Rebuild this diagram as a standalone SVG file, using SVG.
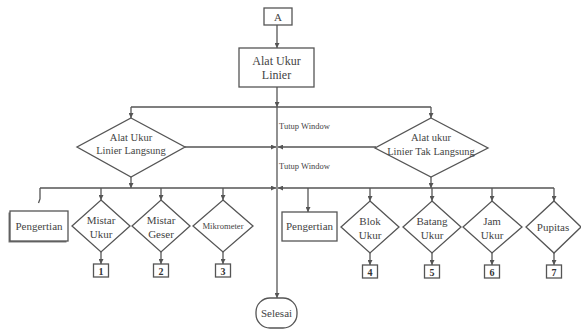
<svg xmlns="http://www.w3.org/2000/svg" width="581" height="332" viewBox="0 0 581 332">
  <defs>
    <marker id="arr" viewBox="0 0 10 10" refX="10" refY="5" markerWidth="5" markerHeight="5" orient="auto" markerUnits="userSpaceOnUse">
      <path d="M0,0 L10,5 L0,10 Z" fill="#555"/>
    </marker>
    <style>
      .shape { fill: #fff; stroke: #555; stroke-width: 1.3; }
      .line { fill: none; stroke: #555; stroke-width: 1.3; }
      text { font-family: 'Liberation Serif', 'DejaVu Serif', serif; fill: #444; }
      .t { text-anchor: middle; }
      .s11 { font-size: 11px; }
      .s12 { font-size: 12px; }
      .s105 { font-size: 10.5px; }
      .small { font-size: 8.5px; }
      .num { fill: #333; font-size: 10px; font-weight: bold; text-anchor: middle; }
    </style>
  </defs>
  <rect width="581" height="332" fill="#fff"/>

  <!-- connectors -->
  <g id="connectors">
    <line class="line" x1="277" y1="25" x2="277" y2="48" marker-end="url(#arr)"/>
    <line class="line" x1="277" y1="87" x2="277" y2="107" marker-end="url(#arr)"/>
    <!-- main split -->
    <polyline class="line" points="131,107 431,107"/>
    <line class="line" x1="131" y1="107" x2="131" y2="118" marker-end="url(#arr)"/>
    <line class="line" x1="431" y1="107" x2="431" y2="118" marker-end="url(#arr)"/>
    <!-- central exit line -->
    <line class="line" x1="277" y1="107" x2="277" y2="298" marker-end="url(#arr)"/>
    <!-- window-close arrows from each decision -->
    <line class="line" x1="185" y1="147" x2="276" y2="147" marker-end="url(#arr)"/>
    <line class="line" x1="376" y1="147" x2="278" y2="147" marker-end="url(#arr)"/>
    <!-- lower branch buses -->
    <line class="line" x1="131" y1="177" x2="131" y2="188" marker-end="url(#arr)"/>
    <line class="line" x1="431" y1="177" x2="431" y2="188" marker-end="url(#arr)"/>
    <line class="line" x1="40" y1="188" x2="276" y2="188" marker-end="url(#arr)"/>
    <line class="line" x1="554" y1="188" x2="278" y2="188" marker-end="url(#arr)"/>
    <path class="line" d="M40,188 L40,199 L38.5,203"/>
    <!-- left drops -->
    <line class="line" x1="101" y1="188" x2="101" y2="200" marker-end="url(#arr)"/>
    <line class="line" x1="161" y1="188" x2="161" y2="200" marker-end="url(#arr)"/>
    <line class="line" x1="223" y1="188" x2="223" y2="200" marker-end="url(#arr)"/>
    <!-- right drops -->
    <line class="line" x1="308" y1="188" x2="308" y2="212" marker-end="url(#arr)"/>
    <line class="line" x1="370" y1="188" x2="370" y2="201" marker-end="url(#arr)"/>
    <line class="line" x1="432" y1="188" x2="432" y2="201" marker-end="url(#arr)"/>
    <line class="line" x1="492" y1="188" x2="492" y2="201" marker-end="url(#arr)"/>
    <line class="line" x1="554" y1="188" x2="554" y2="201" marker-end="url(#arr)"/>
    <!-- to numbered connectors -->
    <line class="line" x1="101" y1="252" x2="101" y2="264" marker-end="url(#arr)"/>
    <line class="line" x1="161" y1="252" x2="161" y2="264" marker-end="url(#arr)"/>
    <line class="line" x1="223" y1="252" x2="223" y2="264" marker-end="url(#arr)"/>
    <line class="line" x1="370" y1="253" x2="370" y2="265" marker-end="url(#arr)"/>
    <line class="line" x1="432" y1="253" x2="432" y2="265" marker-end="url(#arr)"/>
    <line class="line" x1="492" y1="253" x2="492" y2="265" marker-end="url(#arr)"/>
    <line class="line" x1="554" y1="253" x2="554" y2="265" marker-end="url(#arr)"/>
    <text class="small" x="279" y="129">Tutup Window</text>
    <text class="small" x="279" y="169">Tutup Window</text>
  </g>

  <g id="start">
    <rect class="shape" x="264" y="8" width="28" height="17"/>
    <text class="t s11" x="278" y="20.5">A</text>
  </g>

  <g id="alat-ukur-linier">
    <rect class="shape" x="239" y="48" width="75" height="39"/>
    <text class="t s12" x="276.5" y="64.5">Alat Ukur</text>
    <text class="t s12" x="276.5" y="79">Linier</text>
  </g>

  <g id="langsung">
    <polygon class="shape" points="131,118 185,147 131,177 77,147"/>
    <text class="t s105" x="131" y="141">Alat Ukur</text>
    <text class="t s105" x="131" y="154">Linier Langsung</text>
  </g>

  <g id="tak-langsung">
    <polygon class="shape" points="431,118 488,148 431,177 375,148"/>
    <text class="t s105" x="431" y="141">Alat ukur</text>
    <text class="t s105" x="431" y="155">Linier Tak Langsung</text>
  </g>

  <g id="pengertian-1">
    <rect x="8.5" y="212.5" width="58" height="30" fill="#777"/>
    <rect class="shape" x="10" y="211" width="58" height="30"/>
    <text class="t s11" x="39" y="230">Pengertian</text>
  </g>

  <g id="mistar-ukur">
    <polygon class="shape" points="101,200 130,226 101,252 72,226"/>
    <text class="t s11" x="101" y="224">Mistar</text>
    <text class="t s11" x="101" y="238">Ukur</text>
  </g>

  <g id="mistar-geser">
    <polygon class="shape" points="161,200 190,226 161,252 132,226"/>
    <text class="t s11" x="161" y="224">Mistar</text>
    <text class="t s11" x="161" y="238">Geser</text>
  </g>

  <g id="mikrometer">
    <polygon class="shape" points="223,200 253,226 223,252 193,226"/>
    <text class="t" style="font-size:8.6px" x="223" y="229">Mikrometer</text>
  </g>

  <g id="pengertian-2">
    <rect class="shape" x="282" y="212" width="55" height="29"/>
    <text class="t s11" x="309.5" y="230">Pengertian</text>
  </g>

  <g id="blok-ukur">
    <polygon class="shape" points="370,201 399,227 370,253 341,227"/>
    <text class="t s11" x="370" y="225">Blok</text>
    <text class="t s11" x="370" y="239">Ukur</text>
  </g>

  <g id="batang-ukur">
    <polygon class="shape" points="432,201 461,227 432,253 403,227"/>
    <text class="t s11" x="432" y="225">Batang</text>
    <text class="t s11" x="432" y="239">Ukur</text>
  </g>

  <g id="jam-ukur">
    <polygon class="shape" points="492,201 522,227 492,253 463,227"/>
    <text class="t s11" x="492" y="225">Jam</text>
    <text class="t s11" x="492" y="239">Ukur</text>
  </g>

  <g id="pupitas">
    <polygon class="shape" points="554,201 581,227 554,253 526,227"/>
    <text class="t s11" x="553" y="231">Pupitas</text>
  </g>

  <g id="c1"><rect class="shape" x="93.5" y="264" width="15" height="13"/><text class="num" x="101" y="274.5">1</text></g>
  <g id="c2"><rect class="shape" x="153.5" y="264" width="15" height="13"/><text class="num" x="161" y="274.5">2</text></g>
  <g id="c3"><rect class="shape" x="215.5" y="264" width="15" height="13"/><text class="num" x="223" y="274.5">3</text></g>
  <g id="c4"><rect class="shape" x="362.5" y="265" width="15" height="13"/><text class="num" x="370" y="275.5">4</text></g>
  <g id="c5"><rect class="shape" x="424.5" y="265" width="15" height="13"/><text class="num" x="432" y="275.5">5</text></g>
  <g id="c6"><rect class="shape" x="484.5" y="265" width="15" height="13"/><text class="num" x="492" y="275.5">6</text></g>
  <g id="c7"><rect class="shape" x="546.5" y="265" width="15" height="13"/><text class="num" x="554" y="275.5">7</text></g>

  <g id="selesai">
    <rect class="shape" x="256" y="298" width="41" height="30" rx="14" ry="14"/>
    <text class="t s11" x="276.5" y="317">Selesai</text>
  </g>
</svg>
